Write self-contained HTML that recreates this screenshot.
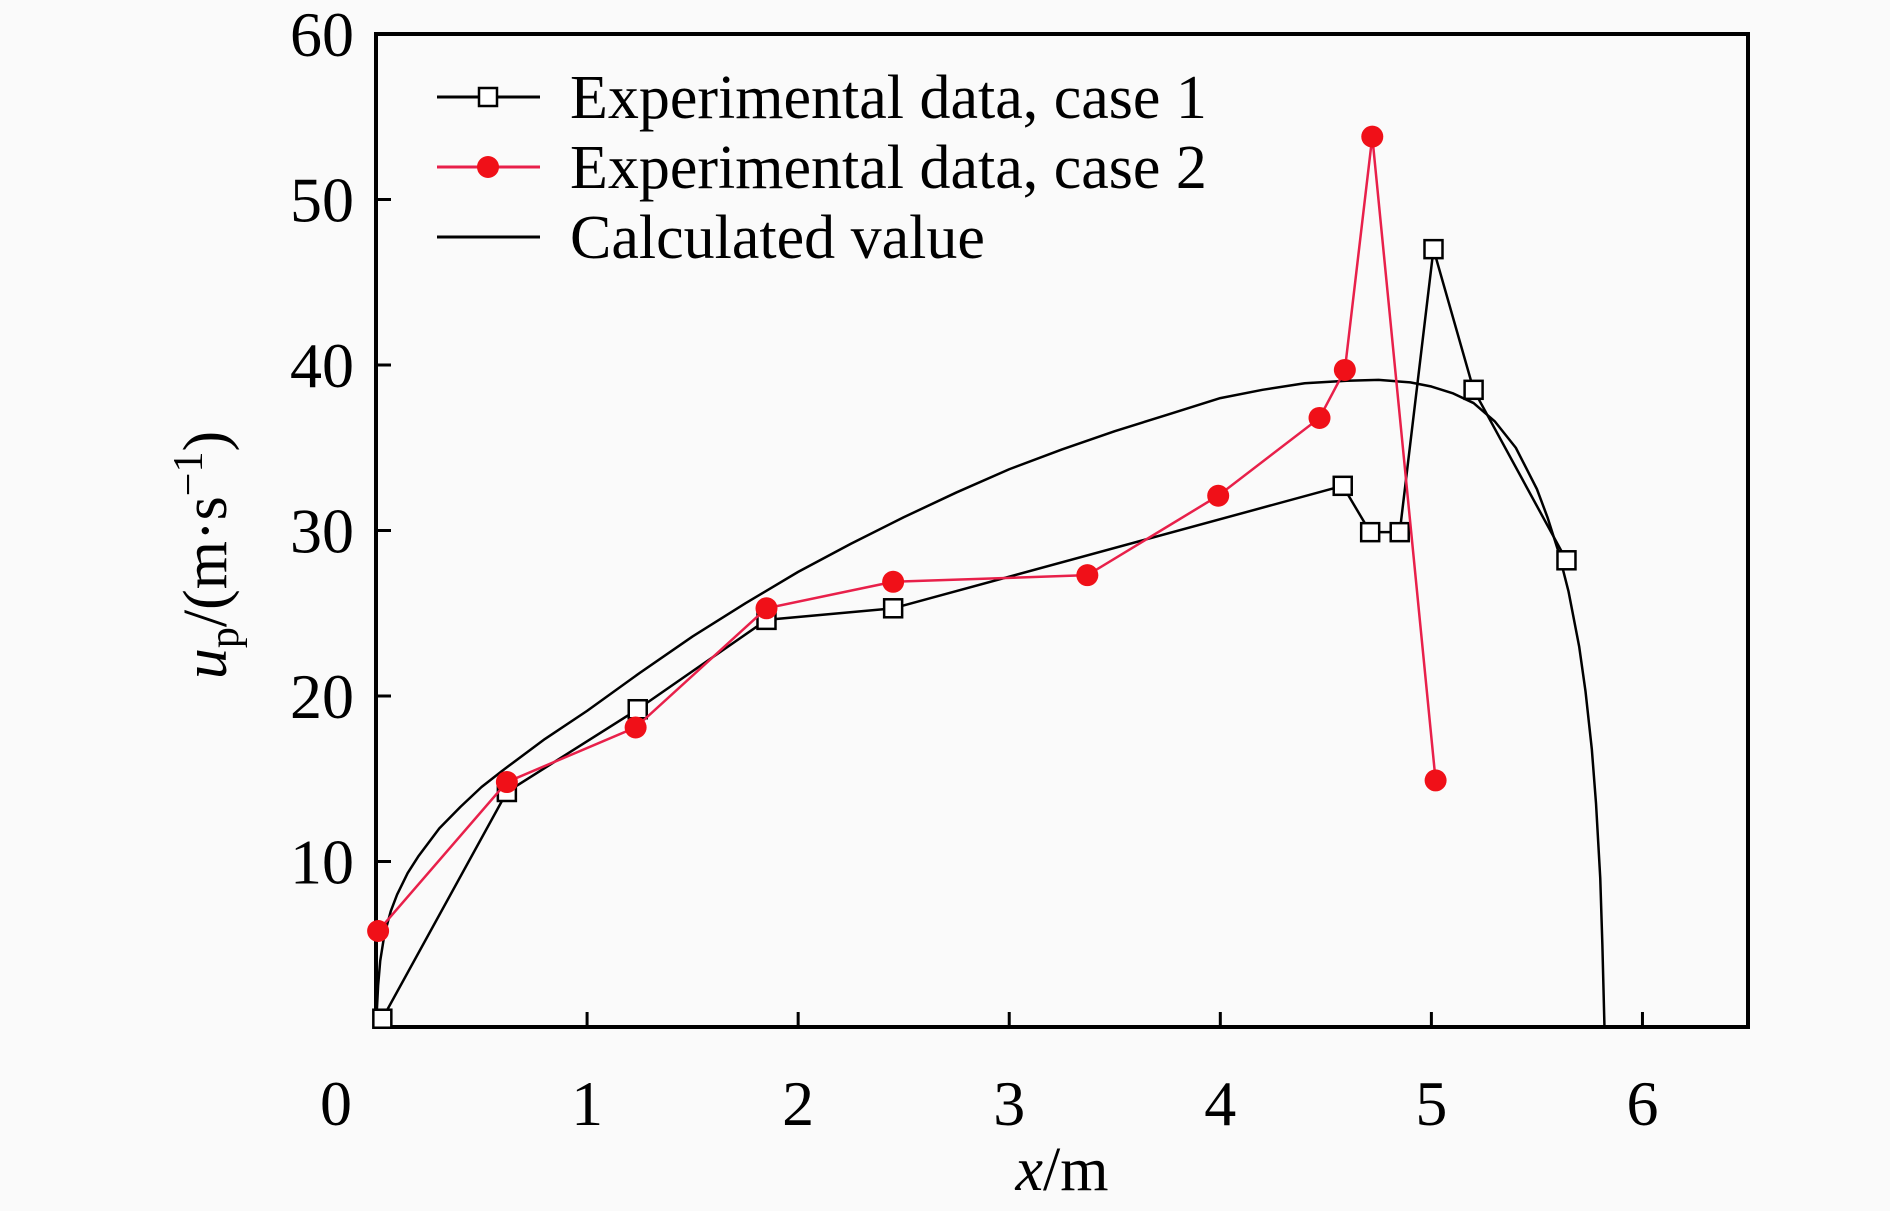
<!DOCTYPE html>
<html><head><meta charset="utf-8"><style>
html,body{margin:0;padding:0;background:#fafafa;}
svg{display:block;font-family:"Liberation Serif",serif;}
</style></head><body>
<svg id="chart" width="1890" height="1211" viewBox="0 0 1890 1211" xmlns="http://www.w3.org/2000/svg">
<rect width="1890" height="1211" fill="#fafafa"/>
<g id="axes"></g>
<g id="series"></g>
<g id="legend"></g>
</svg>
<script>
const xTicks=[0,1,2,3,4,5,6];
const yTicks=[10,20,30,40,50,60];
const case1X=[0.03,0.62,1.24,1.85,2.45,4.58,4.71,4.85,5.01,5.2,5.64];
const case1Y=[0.5,14.2,19.2,24.6,25.3,32.7,29.9,29.9,47.0,38.5,28.2];
const case2X=[0.01,0.62,1.23,1.85,2.45,3.37,3.99,4.47,4.59,4.72,5.02];
const case2Y=[5.8,14.8,18.1,25.3,26.9,27.3,32.1,36.8,39.7,53.8,14.9];
const calcX=[0,0.01,0.02,0.04,0.07,0.1,0.15,0.2,0.3,0.4,0.5,0.6,0.8,1,1.25,1.5,1.75,2,2.25,2.5,2.75,3,3.25,3.5,3.75,4,4.2,4.4,4.6,4.75,4.9,5.0,5.1,5.2,5.3,5.4,5.5,5.55,5.6,5.65,5.7,5.73,5.76,5.78,5.8,5.81,5.82];
const calcY=[0,2.5,4,5.6,7,8,9.3,10.3,12,13.3,14.5,15.5,17.4,19.1,21.4,23.6,25.6,27.5,29.2,30.8,32.3,33.7,34.9,36,37,38,38.5,38.9,39.05,39.1,38.95,38.7,38.3,37.7,36.6,35,32.5,30.8,28.8,26.3,23,20.3,16.8,13.5,9,5,0];
const X0=376,X1=1748,Y0=1027,Y1=34,XMAX=6.5,YMAX=60;
const sx=v=>X0+(X1-X0)*v/XMAX, sy=v=>Y0-(Y0-Y1)*v/YMAX;
const NS="http://www.w3.org/2000/svg";
function mk(t,a,p){const e=document.createElementNS(NS,t);for(const k in a)e.setAttribute(k,a[k]);p.appendChild(e);return e;}
const ax=document.getElementById('axes'),se=document.getElementById('series'),lg=document.getElementById('legend');
let f=mk('rect',{x:X0,y:Y1,width:X1-X0,height:Y0-Y1,fill:'none',stroke:'#000','stroke-width':4},ax);


xTicks.forEach(v=>{
 if(v>0){let t=mk('line',{x1:sx(v),x2:sx(v),y1:Y0,y2:Y0-15,stroke:'#000','stroke-width':3},ax);
 
 }
 let l=mk('text',{x:sx(v)-(v===0?40:0),y:Y0+98,'font-size':64,'text-anchor':'middle'},ax);l.textContent=v;
 
 
});
yTicks.forEach(v=>{
 if(v<60){let t=mk('line',{x1:X0,x2:X0+15,y1:sy(v),y2:sy(v),stroke:'#000','stroke-width':3},ax);
 
 }
 let l=mk('text',{x:354,y:sy(v)+22,'font-size':64,'text-anchor':'end'},ax);l.textContent=v;
 
 
});
let xt=mk('text',{x:1062,y:1190,'font-size':62,'text-anchor':'middle'},ax);
xt.innerHTML='<tspan font-style="italic">x</tspan>/m';


let yt=mk('text',{x:0,y:0,'font-size':62,'text-anchor':'middle',transform:'translate(226,555) rotate(-90)'},ax);
yt.innerHTML='<tspan font-style="italic">u</tspan><tspan font-size="42" dy="12">p</tspan><tspan dy="-12">/(m·s</tspan><tspan font-size="42" dy="-24">−1</tspan><tspan dy="24">)</tspan>';


const pts=(X,Y)=>X.map((x,i)=>sx(x)+','+sy(Y[i])).join(' ');
let c=mk('polyline',{points:pts(calcX,calcY),fill:'none',stroke:'#000','stroke-width':2.5,'stroke-linejoin':'round'},se);


let l1=mk('polyline',{points:pts(case1X,case1Y),fill:'none',stroke:'#000','stroke-width':2.5},se);


case1X.forEach((x,i)=>{let r=mk('rect',{x:sx(x)-9,y:sy(case1Y[i])-9,width:18,height:18,fill:'#fff',stroke:'#000','stroke-width':2.5},se);
 
 });
let l2=mk('polyline',{points:pts(case2X,case2Y),fill:'none',stroke:'#e8204a','stroke-width':2.5},se);


case2X.forEach((x,i)=>{let r=mk('circle',{cx:sx(x),cy:sy(case2Y[i]),r:11,fill:'#f01018'},se);
 
 });
const items=[['Experimental data, case 1','sq'],['Experimental data, case 2','ci'],['Calculated value','ln']];
items.forEach((it,i)=>{
 const y=97+i*70;
 let g=mk('g',{},lg);
 
 
 mk('line',{x1:437,x2:540,y1:y,y2:y,stroke:it[1]==='ci'?'#e8204a':'#000','stroke-width':3},g);
 if(it[1]==='sq')mk('rect',{x:479,y:y-9,width:18,height:18,fill:'#fff',stroke:'#000','stroke-width':2.5},g);
 if(it[1]==='ci')mk('circle',{cx:488,cy:y,r:11,fill:'#f01018'},g);
 let t=mk('text',{x:570,y:y+21,'font-size':62},g);t.textContent=it[0];
});
</script>
</body></html>
